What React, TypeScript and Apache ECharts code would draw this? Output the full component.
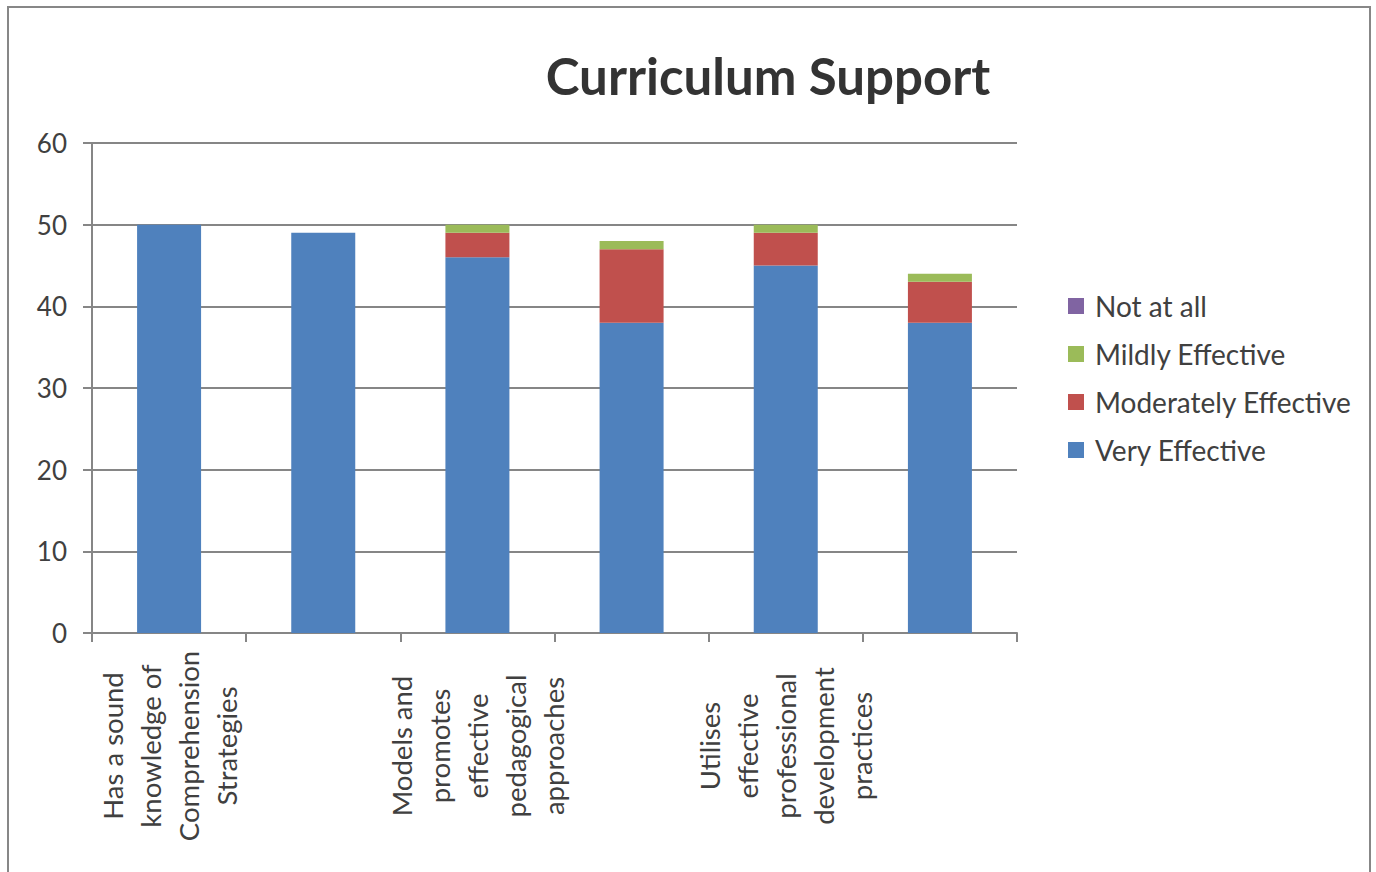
import React, { useEffect, useRef } from "react";
import * as echarts from "echarts";

const categories = [
  "Has a sound\nknowledge of\nComprehension\nStrategies",
  "Item 2",
  "Models and\npromotes\neffective\npedagogical\napproaches",
  "Item 4",
  "Utilises\neffective\nprofessional\ndevelopment\npractices",
  "Item 6",
];
const veryEffective = [50, 49, 46, 38, 45, 38];
const moderatelyEffective = [0, 0, 3, 9, 4, 5];
const mildlyEffective = [0, 0, 1, 1, 1, 1];
const notAtAll = [0, 0, 0, 0, 0, 0];
const legendOrder = ["Not at all", "Mildly Effective", "Moderately Effective", "Very Effective"];
const yTicks = { min: 0, max: 60, interval: 10 };

const FONT = "Lato";
const TEXT = "#404040";
const GRID = "#868686";

export default function App() {
  const ref = useRef<HTMLDivElement>(null);
  useEffect(() => {
    if (!ref.current) return;
    const chart = echarts.init(ref.current, undefined, { renderer: "svg" });
    const mk = (name: string, data: number[], color: string) => ({
      name,
      type: "bar",
      stack: "total",
      data,
      barWidth: 64,
      itemStyle: { color },
    });
    chart.setOption({
      animation: false,
      backgroundColor: "#ffffff",
      textStyle: { fontFamily: FONT },
      title: {
        text: "Curriculum Support",
        left: 768,
        top: 50,
        padding: 0,
        textAlign: "center",
        textStyle: { fontFamily: FONT, fontSize: 51, fontWeight: "bold", color: "#333333" },
      },
      graphic: [
        {
          type: "rect",
          shape: { x: 8, y: 7, width: 1362, height: 900 },
          style: { fill: "none", stroke: "#878787", lineWidth: 2 },
          silent: true,
        },
      ],
      legend: {
        orient: "vertical",
        left: 1068,
        top: 292,
        padding: 0,
        data: legendOrder,
        icon: "rect",
        itemWidth: 16,
        itemHeight: 16,
        itemGap: 20,
        textStyle: { fontFamily: FONT, fontSize: 28, color: TEXT, padding: [0, 0, 0, 6] },
      },
      grid: { left: 92, right: 359, top: 143, bottom: 239, containLabel: false },
      xAxis: {
        type: "category",
        data: categories,
        axisLine: { lineStyle: { color: GRID, width: 2 } },
        axisTick: { show: true, interval: 0, length: 9, lineStyle: { color: GRID, width: 2 } },
        axisLabel: {
          interval: 1,
          rotate: 90,
          align: "center",
          verticalAlign: "middle",
          margin: 113,
          fontFamily: FONT,
          fontSize: 27.5,
          lineHeight: 38,
          color: TEXT,
        },
      },
      yAxis: {
        type: "value",
        min: yTicks.min,
        max: yTicks.max,
        interval: yTicks.interval,
        axisLine: { show: true, lineStyle: { color: GRID, width: 2 } },
        axisTick: { show: true, length: 9, lineStyle: { color: GRID, width: 2 } },
        splitLine: { show: true, lineStyle: { color: GRID, width: 2 } },
        axisLabel: { fontFamily: FONT, fontSize: 26, color: TEXT, margin: 25 },
      },
      series: [
        mk("Very Effective", veryEffective, "#4F81BD"),
        mk("Moderately Effective", moderatelyEffective, "#C0504D"),
        mk("Mildly Effective", mildlyEffective, "#9BBB59"),
        mk("Not at all", notAtAll, "#8064A2"),
      ],
    });
    return () => chart.dispose();
  }, []);
  return (
    <div
      ref={ref}
      style={{ position: "absolute", left: 0, top: 0, width: 1376, height: 872 }}
    />
  );
}
